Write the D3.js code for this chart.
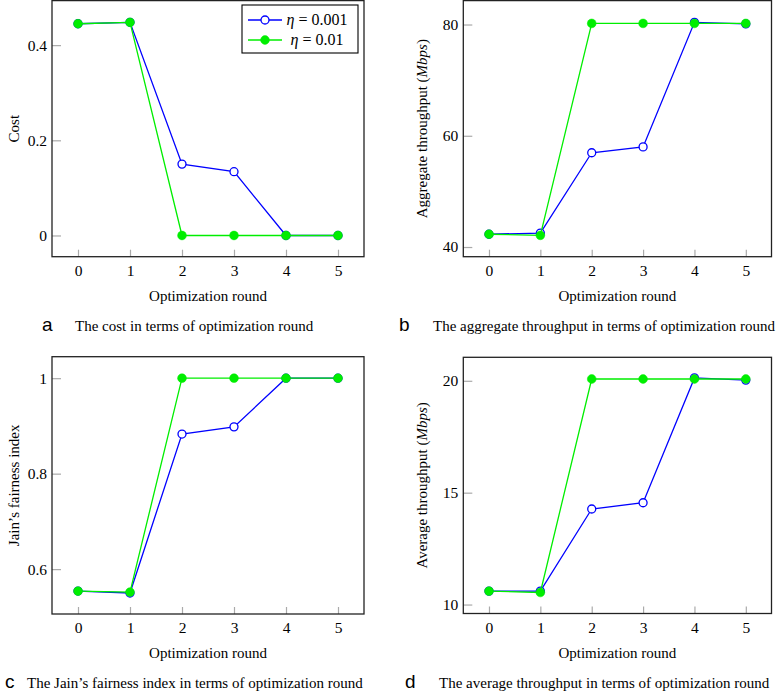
<!DOCTYPE html>
<html>
<head>
<meta charset="utf-8">
<script src="https://cdn.jsdelivr.net/npm/d3@7"></script>
<style>
  body { margin: 0; background: #fff; }
  svg { display: block; }
  svg text { font-family: "Liberation Serif", "Times New Roman", serif; fill: #000; }
</style>
</head>
<body>
<svg id="chart" width="778" height="691"></svg>
<script>
// ---- data ----
const rounds = [0, 1, 2, 3, 4, 5];
const xTicks = [0, 1, 2, 3, 4, 5];

const costSmall = [0.445, 0.448, 0.150, 0.134, 0.000, 0.000];   // eta = 0.001
const costLarge = [0.445, 0.448, 0.000, 0.000, 0.000, 0.000];   // eta = 0.01
const costTicks = [0, 0.2, 0.4];

const aggSmall = [42.3, 42.5, 56.95, 58.0, 80.4, 80.1];
const aggLarge = [42.3, 42.1, 80.2, 80.2, 80.2, 80.2];
const aggTicks = [40, 60, 80];

const jainSmall = [0.554, 0.550, 0.883, 0.898, 1.000, 1.000];
const jainLarge = [0.554, 0.552, 1.000, 1.000, 1.000, 1.000];
const jainTicks = [0.6, 0.8, 1];

const avgSmall = [10.6, 10.6, 14.27, 14.55, 20.13, 20.03];
const avgLarge = [10.6, 10.54, 20.08, 20.08, 20.08, 20.08];
const avgTicks = [10, 15, 20];

const seriesNames = ["0.001", "0.01"];
const captions = [
  ["a", "The cost in terms of optimization round"],
  ["b", "The aggregate throughput in terms of optimization round"],
  ["c", "The Jain\u2019s fairness index in terms of optimization round"],
  ["d", "The average throughput in terms of optimization round"]
];

// ---- drawing ----
const svg = d3.select("#chart");
const BLUE = "#0000ff", GREEN = "#00ee00";
const SERIF = '"Liberation Serif", "Times New Roman", serif';

function panel(o) {
  const g = svg.append("g");
  const x = d3.scaleLinear().domain([-0.5, 5.5]).range([o.left, o.right]);
  const y = d3.scaleLinear().domain(o.domain).range([o.bottom, o.top]);

  // ticks (inside, gray)
  const xa = d3.axisBottom(x).tickValues(xTicks).tickSize(-7).tickPadding(8).tickFormat(d3.format("d"));
  const gx = g.append("g").attr("transform", `translate(0,${o.bottom})`).call(xa);
  const ya = d3.axisLeft(y).tickValues(o.ticks).tickSize(-9).tickPadding(5).tickFormat(o.fmt);
  const gy = g.append("g").attr("transform", `translate(${o.left},0)`).call(ya);
  [gx, gy].forEach(a => {
    a.attr("font-family", null).attr("font-size", null);
    a.select(".domain").remove();
    a.selectAll(".tick line").attr("stroke", "#aaa").attr("stroke-width", 1.2);
    a.selectAll(".tick text").style("font-family", SERIF).style("font-size", "15.5px").attr("fill", "#000");
  });
  gx.selectAll(".tick text").attr("dy", "0.71em");

  const line = d3.line().x((d, i) => x(rounds[i])).y(d => y(d));
  // eta = 0.001 (blue, open circles)
  g.append("path").datum(o.small).attr("d", line).attr("fill", "none").attr("stroke", BLUE).attr("stroke-width", 1.3);
  g.selectAll(".mb").data(o.small).enter().append("circle")
    .attr("cx", (d, i) => x(rounds[i])).attr("cy", d => y(d)).attr("r", 4)
    .attr("fill", "#fff").attr("stroke", BLUE).attr("stroke-width", 1.3);
  // eta = 0.01 (green, filled)
  g.append("path").datum(o.large).attr("d", line).attr("fill", "none").attr("stroke", GREEN).attr("stroke-width", 1.3);
  g.selectAll(".mg").data(o.large).enter().append("circle")
    .attr("cx", (d, i) => x(rounds[i])).attr("cy", d => y(d)).attr("r", 4.4)
    .attr("fill", GREEN).attr("stroke", GREEN).attr("stroke-width", 0.5);

  // frame
  g.append("rect").attr("x", o.left).attr("y", o.top)
    .attr("width", o.right - o.left).attr("height", o.bottom - o.top)
    .attr("fill", "none").attr("stroke", "#222").attr("stroke-width", 1.3);

  // axis labels
  const cx = (o.left + o.right) / 2;
  g.append("text").attr("x", cx).attr("y", o.bottom + 44).attr("text-anchor", "middle")
    .style("font-family", SERIF).style("font-size", "15px").text("Optimization round");
  const yl = g.append("text")
    .attr("transform", `translate(${o.ylx},${(o.top + o.bottom) / 2}) rotate(-90)`)
    .attr("text-anchor", "middle").style("font-family", SERIF).style("font-size", "15px");
  o.ylabel.forEach(p => yl.append("tspan").style("font-style", p.italic ? "italic" : "normal").text(p.t));

  // caption
  g.append("text").attr("x", o.capLetterX).attr("y", o.bottom + 74)
    .style("font-family", '"Liberation Sans", sans-serif').style("font-size", "19px")
    .style("font-weight", "300").attr("fill", "#222").text(o.cap[0]);
  g.append("text").attr("x", o.capTextX).attr("y", o.bottom + 74)
    .style("font-family", SERIF).style("font-size", "15px").text(o.cap[1]);
  return { x, y };
}

panel({ left: 52, right: 364, top: 0.6, bottom: 256.7, domain: [-0.0446, 0.4936], ticks: costTicks,
  fmt: d3.format(".1~f"), small: costSmall, large: costLarge, ylx: 19,
  ylabel: [{ t: "Cost" }], cap: captions[0], capLetterX: 42, capTextX: 75 });
panel({ left: 463.3, right: 771.5, top: 0.6, bottom: 256.7, domain: [38.26, 84.3], ticks: aggTicks,
  fmt: d3.format("d"), small: aggSmall, large: aggLarge, ylx: 427,
  ylabel: [{ t: "Aggregate throughput (" }, { t: "Mbps", italic: true }, { t: ")" }],
  cap: captions[1], capLetterX: 399, capTextX: 433 });
panel({ left: 52, right: 364, top: 356.7, bottom: 614, domain: [0.506, 1.045], ticks: jainTicks,
  fmt: d3.format(".1~f"), small: jainSmall, large: jainLarge, ylx: 19,
  ylabel: [{ t: "Jain\u2019s fairness index" }], cap: captions[2], capLetterX: 5, capTextX: 27 });
panel({ left: 463.3, right: 771.5, top: 357.3, bottom: 613.5, domain: [9.6, 21.05], ticks: avgTicks,
  fmt: d3.format("d"), small: avgSmall, large: avgLarge, ylx: 427,
  ylabel: [{ t: "Average throughput (" }, { t: "Mbps", italic: true }, { t: ")" }],
  cap: captions[3], capLetterX: 405, capTextX: 439 });

// legend (panel a)
const lg = svg.append("g");
lg.append("rect").attr("x", 242).attr("y", 5).attr("width", 116).attr("height", 48)
  .attr("fill", "#fff").attr("stroke", "#000").attr("stroke-width", 1.1);
const legendRows = [
  { name: seriesNames[0], color: BLUE, open: true, y: 20 },
  { name: seriesNames[1], color: GREEN, open: false, y: 40 }
];
legendRows.forEach(r => {
  lg.append("line").attr("x1", 248).attr("x2", 282).attr("y1", r.y).attr("y2", r.y)
    .attr("stroke", r.color).attr("stroke-width", 1.3);
  lg.append("circle").attr("cx", 265).attr("cy", r.y).attr("r", r.open ? 4 : 4.4)
    .attr("fill", r.open ? "#fff" : r.color).attr("stroke", r.color).attr("stroke-width", r.open ? 1.3 : 0.5);
  const t = lg.append("text").attr("x", 317).attr("y", r.y + 5).attr("text-anchor", "middle")
    .style("font-family", SERIF).style("font-size", "16px");
  t.append("tspan").style("font-style", "italic").text("\u03b7");
  t.append("tspan").text(" = " + r.name);
});
</script>
</body>
</html>
